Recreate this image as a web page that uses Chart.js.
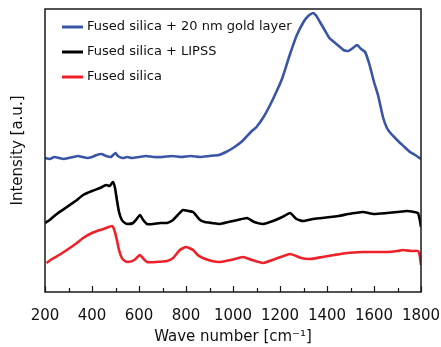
<!DOCTYPE html>
<html>
<head>
<meta charset="utf-8">
<script src="https://cdn.jsdelivr.net/npm/chart.js@4"></script>
<style>
  html, body { margin: 0; padding: 0; background: #fff; overflow: hidden; }
  #wrap { width: 441px; height: 347px; }
  canvas { display: block; }
</style>
</head>
<body>
<div id="wrap"><canvas id="spectra" width="441" height="347"></canvas></div>
<script>
// wave numbers and intensities (arbitrary units)
const goldX = [200, 220, 240, 260, 280, 300, 320, 340, 360, 380, 400, 420, 440, 460, 480, 500, 510, 530, 550, 570, 600, 630, 660, 700, 740, 780, 820, 860, 900, 940, 970, 1000, 1040, 1080, 1100, 1130, 1160, 1190, 1210, 1240, 1270, 1300, 1320, 1340, 1355, 1370, 1390, 1410, 1430, 1450, 1470, 1490, 1510, 1528, 1545, 1562, 1580, 1600, 1617, 1638, 1655, 1670, 1690, 1711, 1730, 1753, 1775, 1800];
const goldY = [134, 133, 135, 134, 133, 134, 135, 136, 135, 134, 135, 137, 138, 136, 135, 139, 136, 134, 135, 134, 135, 136, 135, 135, 136, 135, 136, 135, 136, 137, 140, 144, 151, 161, 165, 175, 188, 203, 214, 236, 256, 270, 276, 279, 276, 270, 262, 254, 250, 246, 242, 241, 244, 247, 243, 240, 228, 210, 197, 175, 164, 159, 154, 149, 145, 140, 137, 133];

const lipssX = [200, 220, 250, 293, 330, 362, 400, 434, 460, 475, 489, 498, 506, 515, 527, 540, 553, 575, 590, 604, 618, 634, 660, 690, 719, 745, 765, 787, 810, 830, 845, 860, 880, 910, 945, 980, 1020, 1060, 1090, 1128, 1170, 1210, 1243, 1270, 1298, 1340, 1380, 1413, 1450, 1490, 1520, 1553, 1600, 1655, 1700, 1740, 1770, 1787, 1795, 1800];
const lipssY = [69, 72, 78, 85, 91, 97, 101, 104, 107, 106, 110, 104, 92, 80, 72, 69, 68, 69, 73, 77, 72, 68, 68, 69, 69, 72, 77, 82, 81, 80, 76, 72, 70, 69, 68, 70, 72, 74, 70, 68, 71, 75, 79, 73, 71, 73, 74, 75, 76, 78, 79, 80, 78, 79, 80, 81, 80, 79, 72, 65];

const silicaX = [206, 230, 260, 293, 330, 362, 400, 434, 460, 485, 495, 506, 515, 527, 540, 553, 580, 604, 620, 634, 670, 719, 745, 774, 800, 830, 850, 872, 910, 945, 990, 1043, 1080, 1128, 1180, 1243, 1290, 1328, 1380, 1430, 1485, 1550, 1600, 1655, 1700, 1723, 1760, 1787, 1795, 1800];
const silicaY = [29, 33, 37, 42, 48, 54, 59, 62, 64, 66, 62, 52, 42, 34, 31, 30, 32, 37, 33, 30, 30, 31, 34, 42, 45, 42, 37, 34, 31, 30, 32, 35, 32, 29, 33, 38, 34, 33, 35, 37, 39, 40, 40, 40, 41, 42, 41, 41, 36, 27];

const seriesNames = ["Fused silica + 20 nm gold layer", "Fused silica + LIPSS", "Fused silica"];
const seriesColors = ["#3a55a6", "#000000", "#ee2128"];
const xTicks = [200, 400, 600, 800, 1000, 1200, 1400, 1600, 1800];

function toPoints(xs, ys) {
  return xs.map((x, i) => ({ x: x, y: ys[i] }));
}

// frame, inward ticks and the legend inside the plot
const decor = {
  id: "decor",
  afterDraw(chart) {
    const c = chart.ctx;
    const a = chart.chartArea;
    const xs = chart.scales.x;
    const l = Math.round(a.left), r = Math.round(a.right);
    const t = Math.round(a.top), b = Math.round(a.bottom);
    c.save();
    c.strokeStyle = "#1a1a1a";
    c.lineWidth = 1.5;
    c.beginPath();
    c.moveTo(l, t);
    c.lineTo(r, t);
    c.lineTo(r, b);
    c.lineTo(l, b);
    c.closePath();
    c.stroke();
    c.lineWidth = 1.2;
    for (let v = 200; v <= 1800; v += 100) {
      const px = Math.round(xs.getPixelForValue(v)) + 0.5;
      const len = v % 200 === 0 ? 6 : 4;
      c.beginPath();
      c.moveTo(px, b);
      c.lineTo(px, b - len);
      c.stroke();
    }
    c.font = "13px 'DejaVu Sans'";
    c.textBaseline = "middle";
    chart.data.datasets.forEach((ds, i) => {
      const y = a.top + 18 + i * 25;
      c.fillStyle = ds.borderColor;
      c.fillRect(l + 17, y - 1.5, 21, 3);
      c.fillStyle = "#111";
      c.fillText(ds.label, l + 42, y);
    });
    c.restore();
  }
};

new Chart(document.getElementById("spectra"), {
  type: "line",
  data: {
    datasets: [
      { label: seriesNames[0], data: toPoints(goldX, goldY), borderColor: seriesColors[0] },
      { label: seriesNames[1], data: toPoints(lipssX, lipssY), borderColor: seriesColors[1] },
      { label: seriesNames[2], data: toPoints(silicaX, silicaY), borderColor: seriesColors[2] }
    ]
  },
  options: {
    responsive: false,
    animation: false,
    layout: { padding: { top: 9, right: 20, left: 0, bottom: 0 } },
    elements: {
      point: { radius: 0 },
      line: { borderWidth: 2.6, tension: 0.15 }
    },
    plugins: {
      legend: { display: false },
      tooltip: { enabled: false }
    },
    scales: {
      x: {
        type: "linear",
        min: 200,
        max: 1800,
        afterBuildTicks(axis) {
          axis.ticks = xTicks.map((v) => ({ value: v }));
        },
        afterFit(axis) {
          axis.height = 55;
          axis.paddingLeft = 0;
          axis.paddingRight = 0;
        },
        grid: { display: false },
        border: { display: false },
        ticks: {
          color: "#111",
          font: { family: "DejaVu Sans", size: 15 },
          padding: 7,
          maxRotation: 0,
          autoSkip: false,
          callback: (v) => String(v)
        },
        title: {
          display: true,
          text: "Wave number [cm\u207B\u00B9]",
          color: "#111",
          font: { family: "DejaVu Sans", size: 15 },
          padding: { top: 2, bottom: 1 }
        }
      },
      y: {
        min: 0,
        max: 283,
        afterFit(axis) { axis.width = 45; },
        grid: { display: false },
        border: { display: false },
        ticks: { display: false },
        title: {
          display: true,
          text: "Intensity [a.u.]",
          color: "#111",
          font: { family: "DejaVu Sans", size: 15 },
          padding: { top: 9, bottom: 0 }
        }
      }
    }
  },
  plugins: [decor]
});
</script>
</body>
</html>
